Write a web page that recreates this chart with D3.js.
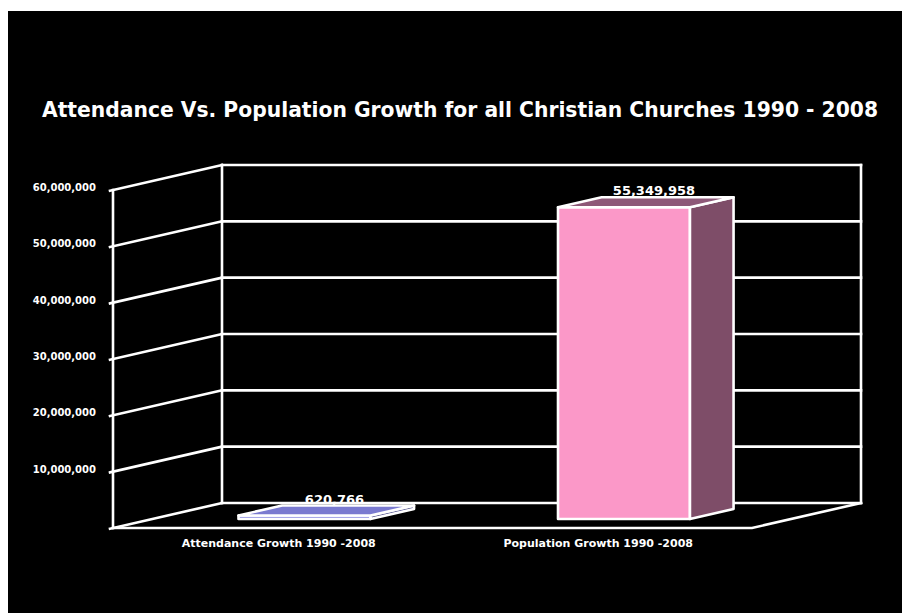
<!DOCTYPE html>
<html lang="en">
<meta charset="utf-8">
<script src="https://d3js.org/d3.v7.min.js"></script>
<style>
  body { margin: 0; background: #fff; }
  svg text { font-family: "DejaVu Sans", sans-serif; font-weight: bold; fill: #fff; }
</style>
<div id="my_dataviz"></div>
<script>

  // data
  var categories = ["Attendance Growth 1990 -2008", "Population Growth 1990 -2008"];
  var values = [620766, 55349958];
  var valueLabels = ["620,766", "55,349,958"];
  var yTicks = [10000000, 20000000, 30000000, 40000000, 50000000, 60000000];
  var gridValues = [0, 10000000, 20000000, 30000000, 40000000, 50000000, 60000000];
  var titleText = "Attendance Vs. Population Growth for all Christian Churches 1990 - 2008";

  var width = 902, height = 613;

  var svg = d3.select("#my_dataviz")
    .append("svg")
      .attr("width", width)
      .attr("height", height);

  // black slide background
  svg.append("rect")
    .attr("x", 8).attr("y", 11)
    .attr("width", width - 8).attr("height", height - 11)
    .attr("fill", "#000");

  // front plane of the 3d box and depth offset
  var plotLeft = 113, plotRight = 752, plotBottom = 528, plotTop = 190;
  var DX = 109, DY = 25;

  var y = d3.scaleLinear().domain([0, 60000000]).range([plotBottom, plotTop]);
  var x = d3.scaleBand().domain(categories).range([plotLeft, plotRight]);

  // oblique projection: t = 0 front, t = 1 back wall
  function proj(px, v, t) { return [px + t * DX, y(v) - t * DY]; }
  function poly(pts) { return pts.map(function(p) { return p.join(","); }).join(" "); }

  var frame = svg.append("g")
    .attr("stroke", "#fff")
    .attr("stroke-width", 2.6)
    .attr("fill", "none")
    .attr("stroke-linecap", "square");

  // back wall gridlines
  frame.selectAll(".grid")
    .data(gridValues)
    .enter().append("line")
      .attr("x1", function(d) { return proj(plotLeft, d, 1)[0]; })
      .attr("y1", function(d) { return proj(plotLeft, d, 1)[1]; })
      .attr("x2", function(d) { return proj(plotRight, d, 1)[0]; })
      .attr("y2", function(d) { return proj(plotRight, d, 1)[1]; });

  // side wall lines
  frame.selectAll(".side")
    .data(gridValues)
    .enter().append("line")
      .attr("x1", function(d) { return proj(plotLeft, d, 0)[0] - 3; })
      .attr("y1", function(d) { return proj(plotLeft, d, 0)[1] + 0.7; })
      .attr("x2", function(d) { return proj(plotLeft, d, 1)[0]; })
      .attr("y2", function(d) { return proj(plotLeft, d, 1)[1]; });

  // verticals
  [[plotLeft, 0], [plotLeft, 1], [plotRight, 1]].forEach(function(e) {
    var a = proj(e[0], 0, e[1]), b = proj(e[0], 60000000, e[1]);
    frame.append("line")
      .attr("x1", a[0]).attr("y1", a[1])
      .attr("x2", b[0]).attr("y2", b[1]);
  });

  // floor front edge
  frame.append("polyline")
    .attr("points", poly([proj(plotLeft, 0, 0), proj(plotRight, 0, 0), proj(plotRight, 0, 1)]));

  // bars
  var t0 = 0.36, t1 = 0.76;
  var faceColors = [
    {front: "#8b8be0", side: "#55558f", top: "#7a7ad0"},
    {front: "#fb98c8", side: "#7e4d68", top: "#8e5878"}
  ];

  var bars = svg.selectAll(".bar")
    .data(categories)
    .enter().append("g")
      .attr("stroke", "#fff")
      .attr("stroke-width", 2.6)
      .attr("stroke-linejoin", "round");

  bars.each(function(c, i) {
    var g = d3.select(this);
    var x0 = x(c) + x.bandwidth() * 0.27;
    var x1 = x0 + x.bandwidth() * 0.413;
    var v = values[i];
    // front
    g.append("polygon")
      .attr("fill", faceColors[i].front)
      .attr("points", poly([proj(x0, 0, t0), proj(x1, 0, t0), proj(x1, v, t0), proj(x0, v, t0)]));
    // side
    g.append("polygon")
      .attr("fill", faceColors[i].side)
      .attr("points", poly([proj(x1, 0, t0), proj(x1, 0, t1), proj(x1, v, t1), proj(x1, v, t0)]));
    // top
    g.append("polygon")
      .attr("fill", faceColors[i].top)
      .attr("points", poly([proj(x0, v, t0), proj(x1, v, t0), proj(x1, v, t1), proj(x0, v, t1)]));

    // value label sits just above the back edge of the top face
    var lx = proj((x0 + x1) / 2, v, t0)[0] + 30;
    var ly = proj(x0, v, t1)[1] - 2;
    svg.append("text")
      .attr("x", lx)
      .attr("y", ly)
      .attr("text-anchor", "middle")
      .style("font-size", "13px")
      .text(valueLabels[i]);
  });

  // y tick labels
  svg.selectAll(".ylab")
    .data(yTicks)
    .enter().append("text")
      .attr("x", 96)
      .attr("y", function(d) { return y(d) + 1; })
      .attr("text-anchor", "end")
      .style("font-size", "10px")
      .text(function(d) { return d3.format(",")(d); });

  // category labels
  svg.selectAll(".xlab")
    .data(categories)
    .enter().append("text")
      .attr("x", function(d) { return x(d) + x.bandwidth() / 2 + 6; })
      .attr("y", 547)
      .attr("text-anchor", "middle")
      .style("font-size", "11px")
      .text(function(d) { return d; });

  // title
  var title = svg.append("text")
    .attr("x", 460)
    .attr("y", 117)
    .attr("text-anchor", "middle")
    .style("font-size", "19px")
    .text(titleText);
  var tl = title.node().getComputedTextLength();
  title.style("font-size", (19 * 837 / tl) + "px");

</script>
</html>
